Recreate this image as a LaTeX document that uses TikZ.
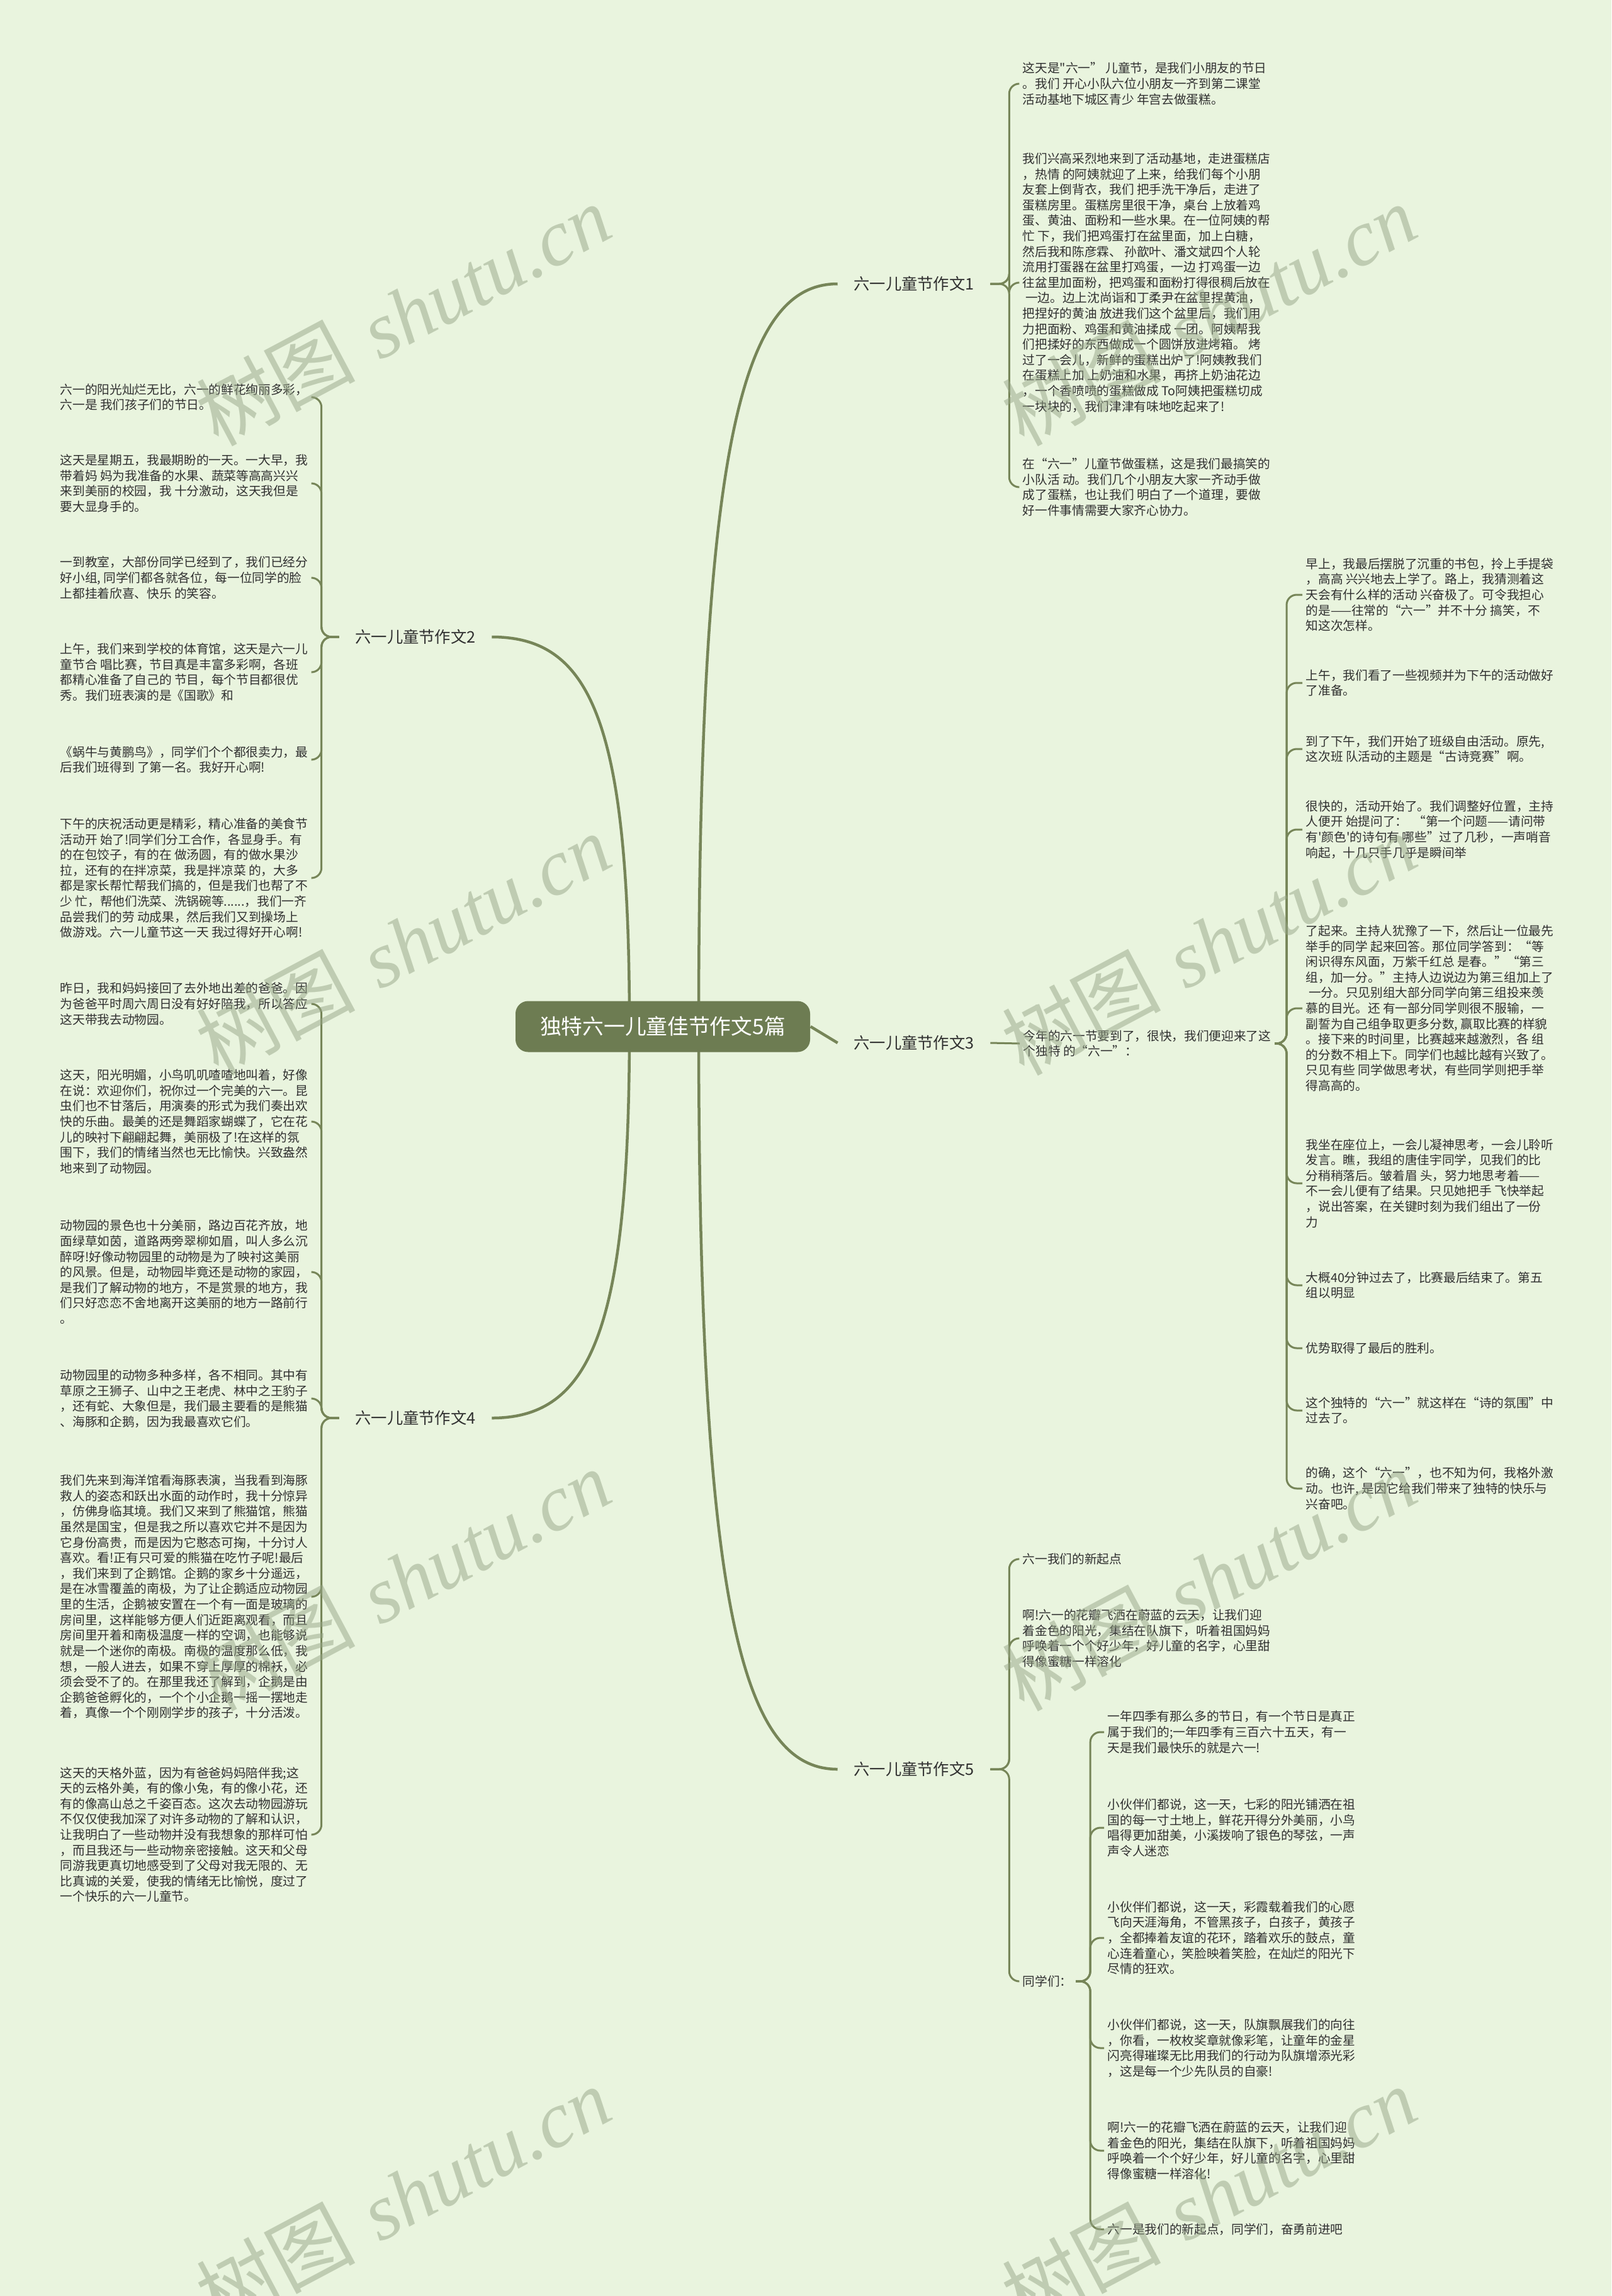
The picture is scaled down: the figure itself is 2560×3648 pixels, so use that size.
\documentclass[tikz,border=0pt]{standalone}
\usepackage{fontspec}
\newfontfamily\cjk{Noto Sans CJK SC}
\newfontfamily\wmserif{Liberation Serif}
\usepackage{tikz}
\usetikzlibrary{positioning,calc,backgrounds}
\usepackage{xcolor}
\definecolor{paper}{RGB}{233,244,222}
\definecolor{olive}{RGB}{118,133,88}
\definecolor{rootfill}{RGB}{109,124,82}
\definecolor{inkgray}{RGB}{48,48,48}
\definecolor{markgreen}{RGB}{150,165,135}

\tikzset{
  rootbox/.style={fill=rootfill,rounded corners=2mm,text=white,font=\cjk\fontsize{9.6pt}{11pt}\selectfont,
    minimum width=46.8mm,minimum height=8.1mm,inner sep=0pt},
  branch/.style={font=\cjk\fontsize{7.2pt}{8.5pt}\selectfont,text=inkgray,inner xsep=2.5mm,inner ysep=1mm},
  leaf/.style={font=\cjk\fontsize{5.6pt}{7pt}\selectfont,text=inkgray,align=left,anchor=west,inner xsep=0.5mm,inner ysep=0.5mm},
  rootlink/.style={olive,line width=0.45mm},
  link/.style={olive,line width=0.3mm,rounded corners=1.6mm},
  watermark/.style={text=markgreen,opacity=0.5,rotate=28,font=\fontsize{36pt}{40pt}\selectfont}
}

\begin{document}
\begin{tikzpicture}[x=0.1mm,y=-0.1mm]
  \begin{scope}[on background layer]
    \fill[paper] (0,0) rectangle (2560,3648);
  \end{scope}
  \useasboundingbox (0,0) rectangle (2560,3648);

  % Root and branches
  \node[rootbox] (root) at (1053,1631) {独特六一儿童佳节作文5篇};
  \node[branch] (b1) at (1452,451) {六一儿童节作文1};
  \node[branch] (b2) at (660,1012) {六一儿童节作文2};
  \node[branch] (b3) at (1452,1657) {六一儿童节作文3};
  \node[branch] (b4) at (660,2253) {六一儿童节作文4};
  \node[branch] (b5) at (1452,2811) {六一儿童节作文5};

  \begin{scope}[on background layer]
    \draw[rootlink] (1110,1631) .. controls (1110,700) and (1180,451) .. (b1.west);
    \draw[rootlink] (root.east) -- (b3.west);
    \draw[rootlink] (1110,1631) .. controls (1110,2560) and (1180,2811) .. (b5.west);
    \draw[rootlink] (1000,1631) .. controls (1000,1150) and (940,1012) .. (b2.east);
    \draw[rootlink] (1000,1631) .. controls (1000,2110) and (940,2253) .. (b4.east);
  \end{scope}

  % Branch 1
  \node[leaf] (b1a) at (1619,133) {这天是"六一” 儿童节，是我们小朋友的节日\\。我们 开心小队六位小朋友一齐到第二课堂\\活动基地下城区青少 年宫去做蛋糕。};
  \node[leaf] (b1b) at (1619,449) {我们兴高采烈地来到了活动基地，走进蛋糕店\\，热情 的阿姨就迎了上来，给我们每个小朋\\友套上倒背衣，我们 把手洗干净后，走进了\\蛋糕房里。蛋糕房里很干净，桌台 上放着鸡\\蛋、黄油、面粉和一些水果。在一位阿姨的帮\\忙 下，我们把鸡蛋打在盆里面，加上白糖，\\然后我和陈彦霖、 孙歆叶、潘文斌四个人轮\\流用打蛋器在盆里打鸡蛋，一边 打鸡蛋一边\\往盆里加面粉，把鸡蛋和面粉打得很稠后放在\\\ 一边。边上沈尚诣和丁柔尹在盆里捏黄油，\\把捏好的黄油 放进我们这个盆里后，我们用\\力把面粉、鸡蛋和黄油揉成 一团。阿姨帮我\\们把揉好的东西做成一个圆饼放进烤箱。 烤\\过了一会儿，新鲜的蛋糕出炉了!阿姨教我们\\在蛋糕上加 上奶油和水果，再挤上奶油花边\\，一个香喷喷的蛋糕做成 To阿姨把蛋糕切成\\一块块的，我们津津有味地吃起来了!};
  \node[leaf] (b1c) at (1619,774) {在“六一”儿童节做蛋糕，这是我们最搞笑的\\小队活 动。我们几个小朋友大家一齐动手做\\成了蛋糕，也让我们 明白了一个道理，要做\\好一件事情需要大家齐心协力。};
  \foreach \leafname in {b1a,b1b,b1c}
    \draw[link] (b1.east) -- ++(30,0) |- (\leafname.west);

  % Branch 2
  \node[leaf] (b2a) at (90,631) {六一的阳光灿烂无比，六一的鲜花绚丽多彩，\\六一是 我们孩子们的节日。};
  \node[leaf] (b2b) at (90,768) {这天是星期五，我最期盼的一天。一大早，我\\带着妈 妈为我准备的水果、蔬菜等高高兴兴\\来到美丽的校园，我 十分激动，这天我但是\\要大显身手的。};
  \node[leaf] (b2c) at (90,918) {一到教室，大部份同学已经到了，我们已经分\\好小组, 同学们都各就各位，每一位同学的脸\\上都挂着欣喜、快乐 的笑容。};
  \node[leaf] (b2d) at (90,1068) {上午，我们来到学校的体育馆，这天是六一儿\\童节合 唱比赛，节目真是丰富多彩啊，各班\\都精心准备了自己的 节目，每个节目都很优\\秀。我们班表演的是《国歌》和};
  \node[leaf] (b2e) at (90,1207) {《蜗牛与黄鹏鸟》，同学们个个都很卖力，最\\后我们班得到 了第一名。我好开心啊!};
  \node[leaf] (b2f) at (90,1395) {下午的庆祝活动更是精彩，精心准备的美食节\\活动开 始了!同学们分工合作，各显身手。有\\的在包饺子，有的在 做汤圆，有的做水果沙\\拉，还有的在拌凉菜，我是拌凉菜 的，大多\\都是家长帮忙帮我们搞的，但是我们也帮了不\\少 忙，帮他们洗菜、洗锅碗等......，我们一齐\\品尝我们的劳 动成果，然后我们又到操场上\\做游戏。六一儿童节这一天 我过得好开心啊!};
  \foreach \leafname in {b2a,b2b,b2c,b2d,b2e,b2f}
    \draw[link] (b2.west) -- ++(-28,0) |- (\leafname.east);

  % Branch 3
  \node[leaf] (b3o) at (1620,1658) {今年的六一节要到了，很快，我们便迎来了这\\个独特 的“六一”：};
  \draw[link] (b3.east) -- (b3o.west);
  \node[leaf] (b3a) at (2069,945) {早上，我最后摆脱了沉重的书包，拎上手提袋\\，高高 兴兴地去上学了。路上，我猜测着这\\天会有什么样的活动 兴奋极了。可令我担心\\的是——往常的“六一”并不十分 搞笑，不\\知这次怎样。};
  \node[leaf] (b3b) at (2069,1085) {上午，我们看了一些视频并为下午的活动做好\\了准备。};
  \node[leaf] (b3c) at (2069,1190) {到了下午，我们开始了班级自由活动。原先,\\这次班 队活动的主题是“古诗竞赛”啊。};
  \node[leaf] (b3d) at (2069,1318) {很快的，活动开始了。我们调整好位置，主持\\人便开 始提问了：\ \ “第一个问题——请问带\\有'颜色'的诗句有 哪些”过了几秒，一声哨音\\响起，十几只手几乎是瞬间举};
  \node[leaf] (b3e) at (2069,1602) {了起来。主持人犹豫了一下，然后让一位最先\\举手的同学 起来回答。那位同学答到：“等\\闲识得东风面，万紫千红总 是春。”“第三\\组，加一分。”主持人边说边为第三组加上了\\\ 一分。只见别组大部分同学向第三组投来羡\\慕的目光。还 有一部分同学则很不服输，一\\副誓为自己组争取更多分数, 赢取比赛的样貌\\。接下来的时间里，比赛越来越激烈，各 组\\的分数不相上下。同学们也越比越有兴致了。\\只见有些 同学做思考状，有些同学则把手举\\得高高的。};
  \node[leaf] (b3f) at (2069,1880) {我坐在座位上，一会儿凝神思考，一会儿聆听\\发言。瞧，我组的唐佳宇同学，见我们的比\\分稍稍落后。皱着眉 头，努力地思考着——\\不一会儿便有了结果。只见她把手 飞快举起\\，说出答案，在关键时刻为我们组出了一份\\力};
  \node[leaf] (b3g) at (2069,2042) {大概40分钟过去了，比赛最后结束了。第五\\组以明显};
  \node[leaf] (b3h) at (2069,2142) {优势取得了最后的胜利。};
  \node[leaf] (b3i) at (2069,2241) {这个独特的“六一”就这样在“诗的氛围”中\\过去了。};
  \node[leaf] (b3j) at (2069,2365) {的确，这个“六一”，也不知为何，我格外激\\动。也许, 是因它给我们带来了独特的快乐与\\兴奋吧。};
  \foreach \leafname in {b3a,b3b,b3c,b3d,b3e,b3f,b3g,b3h,b3i,b3j}
    \draw[link] (b3o.east) -- ++(19,0) |- (\leafname.west);

  % Branch 4
  \node[leaf] (b4a) at (90,1595) {昨日，我和妈妈接回了去外地出差的爸爸。因\\为爸爸平时周六周日没有好好陪我，所以答应\\这天带我去动物园。};
  \node[leaf] (b4b) at (90,1782) {这天，阳光明媚，小鸟叽叽喳喳地叫着，好像\\在说：欢迎你们，祝你过一个完美的六一。昆\\虫们也不甘落后，用演奏的形式为我们奏出欢\\快的乐曲。最美的还是舞蹈家蝴蝶了，它在花\\儿的映衬下翩翩起舞，美丽极了!在这样的氛\\围下，我们的情绪当然也无比愉快。兴致盎然\\地来到了动物园。};
  \node[leaf] (b4c) at (90,2021) {动物园的景色也十分美丽，路边百花齐放，地\\面绿草如茵，道路两旁翠柳如眉，叫人多么沉\\醉呀!好像动物园里的动物是为了映衬这美丽\\的风景。但是，动物园毕竟还是动物的家园，\\是我们了解动物的地方，不是赏景的地方，我\\们只好恋恋不舍地离开这美丽的地方一路前行\\。};
  \node[leaf] (b4d) at (90,2222) {动物园里的动物多种多样，各不相同。其中有\\草原之王狮子、山中之王老虎、林中之王豹子\\，还有蛇、大象但是，我们最主要看的是熊猫\\、海豚和企鹅，因为我最喜欢它们。};
  \node[leaf] (b4e) at (90,2537) {我们先来到海洋馆看海豚表演，当我看到海豚\\救人的姿态和跃出水面的动作时，我十分惊异\\，仿佛身临其境。我们又来到了熊猫馆，熊猫\\虽然是国宝，但是我之所以喜欢它并不是因为\\它身份高贵，而是因为它憨态可掬，十分讨人\\喜欢。看!正有只可爱的熊猫在吃竹子呢!最后\\，我们来到了企鹅馆。企鹅的家乡十分遥远，\\是在冰雪覆盖的南极，为了让企鹅适应动物园\\里的生活，企鹅被安置在一个有一面是玻璃的\\房间里，这样能够方便人们近距离观看，而且\\房间里开着和南极温度一样的空调，也能够说\\就是一个迷你的南极。南极的温度那么低，我\\想，一般人进去，如果不穿上厚厚的棉袄，必\\须会受不了的。在那里我还了解到，企鹅是由\\企鹅爸爸孵化的，一个个小企鹅一摇一摆地走\\着，真像一个个刚刚学步的孩子，十分活泼。};
  \node[leaf] (b4f) at (90,2915) {这天的天格外蓝，因为有爸爸妈妈陪伴我;这\\天的云格外美，有的像小兔，有的像小花，还\\有的像高山总之千姿百态。这次去动物园游玩\\不仅仅使我加深了对许多动物的了解和认识，\\让我明白了一些动物并没有我想象的那样可怕\\，而且我还与一些动物亲密接触。这天和父母\\同游我更真切地感受到了父母对我无限的、无\\比真诚的关爱，使我的情绪无比愉悦，度过了\\一个快乐的六一儿童节。};
  \foreach \leafname in {b4a,b4b,b4c,b4d,b4e,b4f}
    \draw[link] (b4.west) -- ++(-28,0) |- (\leafname.east);

  % Branch 5
  \node[leaf] (b5a) at (1619,2477) {六一我们的新起点};
  \node[leaf] (b5b) at (1619,2603) {啊!六一的花瓣飞洒在蔚蓝的云天，让我们迎\\着金色的阳光，集结在队旗下，听着祖国妈妈\\呼唤着一个个好少年，好儿童的名字，心里甜\\得像蜜糖一样溶化};
  \node[leaf] (b5c) at (1619,3148) {同学们：};
  \foreach \leafname in {b5a,b5b,b5c}
    \draw[link] (b5.east) -- ++(30,0) |- (\leafname.west);

  % Classmates
  \node[leaf] (s1) at (1754,2752) {一年四季有那么多的节日，有一个节日是真正\\属于我们的;一年四季有三百六十五天，有一\\天是我们最快乐的就是六一!};
  \node[leaf] (s2) at (1754,2904) {小伙伴们都说，这一天，七彩的阳光铺洒在祖\\国的每一寸土地上，鲜花开得分外美丽，小鸟\\唱得更加甜美，小溪拨响了银色的琴弦，一声\\声令人迷恋};
  \node[leaf] (s3) at (1754,3079) {小伙伴们都说，这一天，彩霞载着我们的心愿\\飞向天涯海角，不管黑孩子，白孩子，黄孩子\\，全都捧着友谊的花环，踏着欢乐的鼓点，童\\心连着童心，笑脸映着笑脸，在灿烂的阳光下\\尽情的狂欢。};
  \node[leaf] (s4) at (1754,3254) {小伙伴们都说，这一天，队旗飘展我们的向往\\，你看，一枚枚奖章就像彩笔，让童年的金星\\闪亮得璀璨无比用我们的行动为队旗增添光彩\\，这是每一个少先队员的自豪!};
  \node[leaf] (s5) at (1754,3417) {啊!六一的花瓣飞洒在蔚蓝的云天，让我们迎\\着金色的阳光，集结在队旗下，听着祖国妈妈\\呼唤着一个个好少年，好儿童的名字，心里甜\\得像蜜糖一样溶化!};
  \node[leaf] (s6) at (1754,3542) {六一是我们的新起点，同学们，奋勇前进吧};
  \foreach \leafname in {s1,s2,s3,s4,s5,s6}
    \draw[link] (b5c.east) -- ++(23,0) |- (\leafname.west);

  % Watermarks
  \foreach \wx in {640,1920}
    \foreach \wy in {500,1500,2510,3490}
      \node[watermark] (wm-\wx-\wy) at (\wx,\wy) {{\cjk 树图} {\wmserif\itshape shutu.cn}};
\end{tikzpicture}
\end{document}
